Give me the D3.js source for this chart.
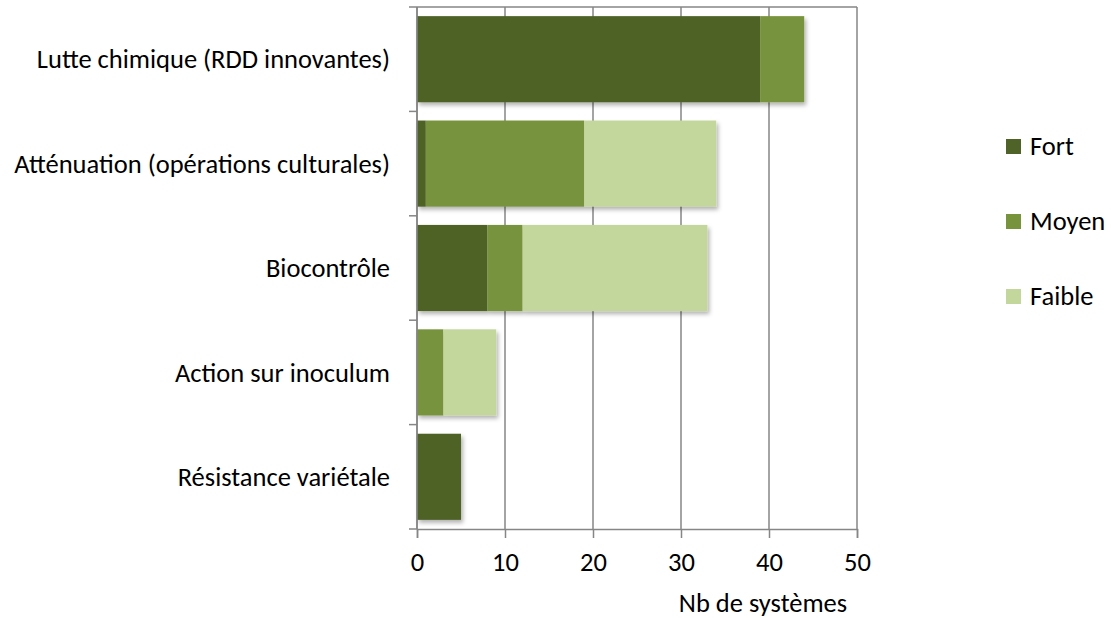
<!DOCTYPE html>
<html>
<head>
<meta charset="utf-8">
<script src="https://cdn.jsdelivr.net/npm/d3@7"></script>
<style>
  html, body { margin: 0; padding: 0; background: #fff; }
  svg { display: block; }
  text { font-family: Carlito, Calibri, Lato, "Open Sans", sans-serif; fill: #000; }
</style>
</head>
<body>
<svg id="chart" width="1111" height="618"></svg>
<script>
// ---- data ----
const categories = [
  "Lutte chimique (RDD innovantes)",
  "Atténuation (opérations culturales)",
  "Biocontrôle",
  "Action sur inoculum",
  "Résistance variétale"
];
const seriesNames = ["Fort", "Moyen", "Faible"];
const fort   = [39, 1, 8, 0, 5];
const moyen  = [5, 18, 4, 3, 0];
const faible = [0, 15, 21, 6, 0];
const xTicks = [0, 10, 20, 30, 40, 50];
const axisTitle = "Nb de systèmes";

// ---- layout ----
const colors = ["#4F6228", "#77933C", "#C3D69B"];
const plot = { left: 417, right: 857, top: 7, bottom: 529 };
const fontSize = 26.5;

const svg = d3.select("#chart");

const defs = svg.append("defs");
const f = defs.append("filter").attr("id", "shadow")
  .attr("x", "-10%").attr("y", "-10%").attr("width", "130%").attr("height", "140%");
f.append("feDropShadow").attr("dx", 2).attr("dy", 3).attr("stdDeviation", 2)
  .attr("flood-color", "#000").attr("flood-opacity", 0.3);

const x = d3.scaleLinear().domain([0, 50]).range([plot.left, plot.right]);
const y = d3.scaleBand().domain(categories).range([plot.top, plot.bottom])
  .paddingInner(0.175).paddingOuter(0.0875);

const rows = categories.map((c, i) => ({ cat: c, Fort: fort[i], Moyen: moyen[i], Faible: faible[i] }));
const stack = d3.stack().keys(seriesNames)(rows);

const gridColor = "#868686";

// gridlines
svg.append("g").selectAll("line").data(xTicks).join("line")
  .attr("x1", d => x(d)).attr("x2", d => x(d))
  .attr("y1", plot.top).attr("y2", plot.bottom)
  .attr("stroke", gridColor).attr("stroke-width", 1.5);
// top border
svg.append("line")
  .attr("x1", plot.left).attr("x2", plot.right)
  .attr("y1", plot.top).attr("y2", plot.top)
  .attr("stroke", gridColor).attr("stroke-width", 1.5);

// bars
const barsG = svg.append("g").attr("filter", "url(#shadow)");
stack.forEach((s, si) => {
  barsG.append("g").attr("fill", colors[si])
    .selectAll("rect").data(s.filter(d => d[1] - d[0] > 0)).join("rect")
    .attr("x", d => x(d[0]))
    .attr("width", d => x(d[1]) - x(d[0]))
    .attr("y", d => y(d.data.cat))
    .attr("height", y.bandwidth());
});

// bottom axis
const xAxis = d3.axisBottom(x).tickValues(xTicks).tickSize(9);
const gx = svg.append("g").attr("transform", `translate(0,${plot.bottom})`).call(xAxis);
gx.select(".domain").attr("stroke", gridColor).attr("stroke-width", 1.5);
gx.selectAll(".tick line").attr("stroke", gridColor).attr("stroke-width", 1.5);
gx.selectAll(".tick text").attr("font-size", fontSize).attr("fill", "#000")
  .attr("y", 33).attr("dy", "0.35em");

// left axis: ticks at band boundaries
const bounds = d3.range(categories.length + 1).map(i => plot.top + i * (plot.bottom - plot.top) / categories.length);
svg.append("line").attr("x1", plot.left).attr("x2", plot.left)
  .attr("y1", plot.top).attr("y2", plot.bottom)
  .attr("stroke", gridColor).attr("stroke-width", 1.5);
svg.append("g").selectAll("line").data(bounds).join("line")
  .attr("x1", plot.left - 8).attr("x2", plot.left)
  .attr("y1", d => d).attr("y2", d => d)
  .attr("stroke", gridColor).attr("stroke-width", 1.5);
svg.append("g").selectAll("text").data(categories).join("text")
  .attr("x", 390)
  .attr("y", d => y(d) + y.bandwidth() / 2)
  .attr("dy", "0.35em")
  .attr("text-anchor", "end")
  .attr("font-size", fontSize)
  .text(d => d);

// axis title
svg.append("text")
  .attr("x", 763).attr("y", 603).attr("dy", "0.35em")
  .attr("text-anchor", "middle").attr("font-size", fontSize)
  .text(axisTitle);

// legend
const legendY = [146, 221, 296];
const lg = svg.append("g").selectAll("g").data(seriesNames).join("g")
  .attr("transform", (d, i) => `translate(1006,${legendY[i]})`);
lg.append("rect").attr("x", 0).attr("y", -7).attr("width", 15).attr("height", 15)
  .attr("fill", (d, i) => colors[i]);
lg.append("text").attr("x", 24).attr("y", 0).attr("dy", "0.35em")
  .attr("font-size", fontSize).text(d => d);
</script>
</body>
</html>
